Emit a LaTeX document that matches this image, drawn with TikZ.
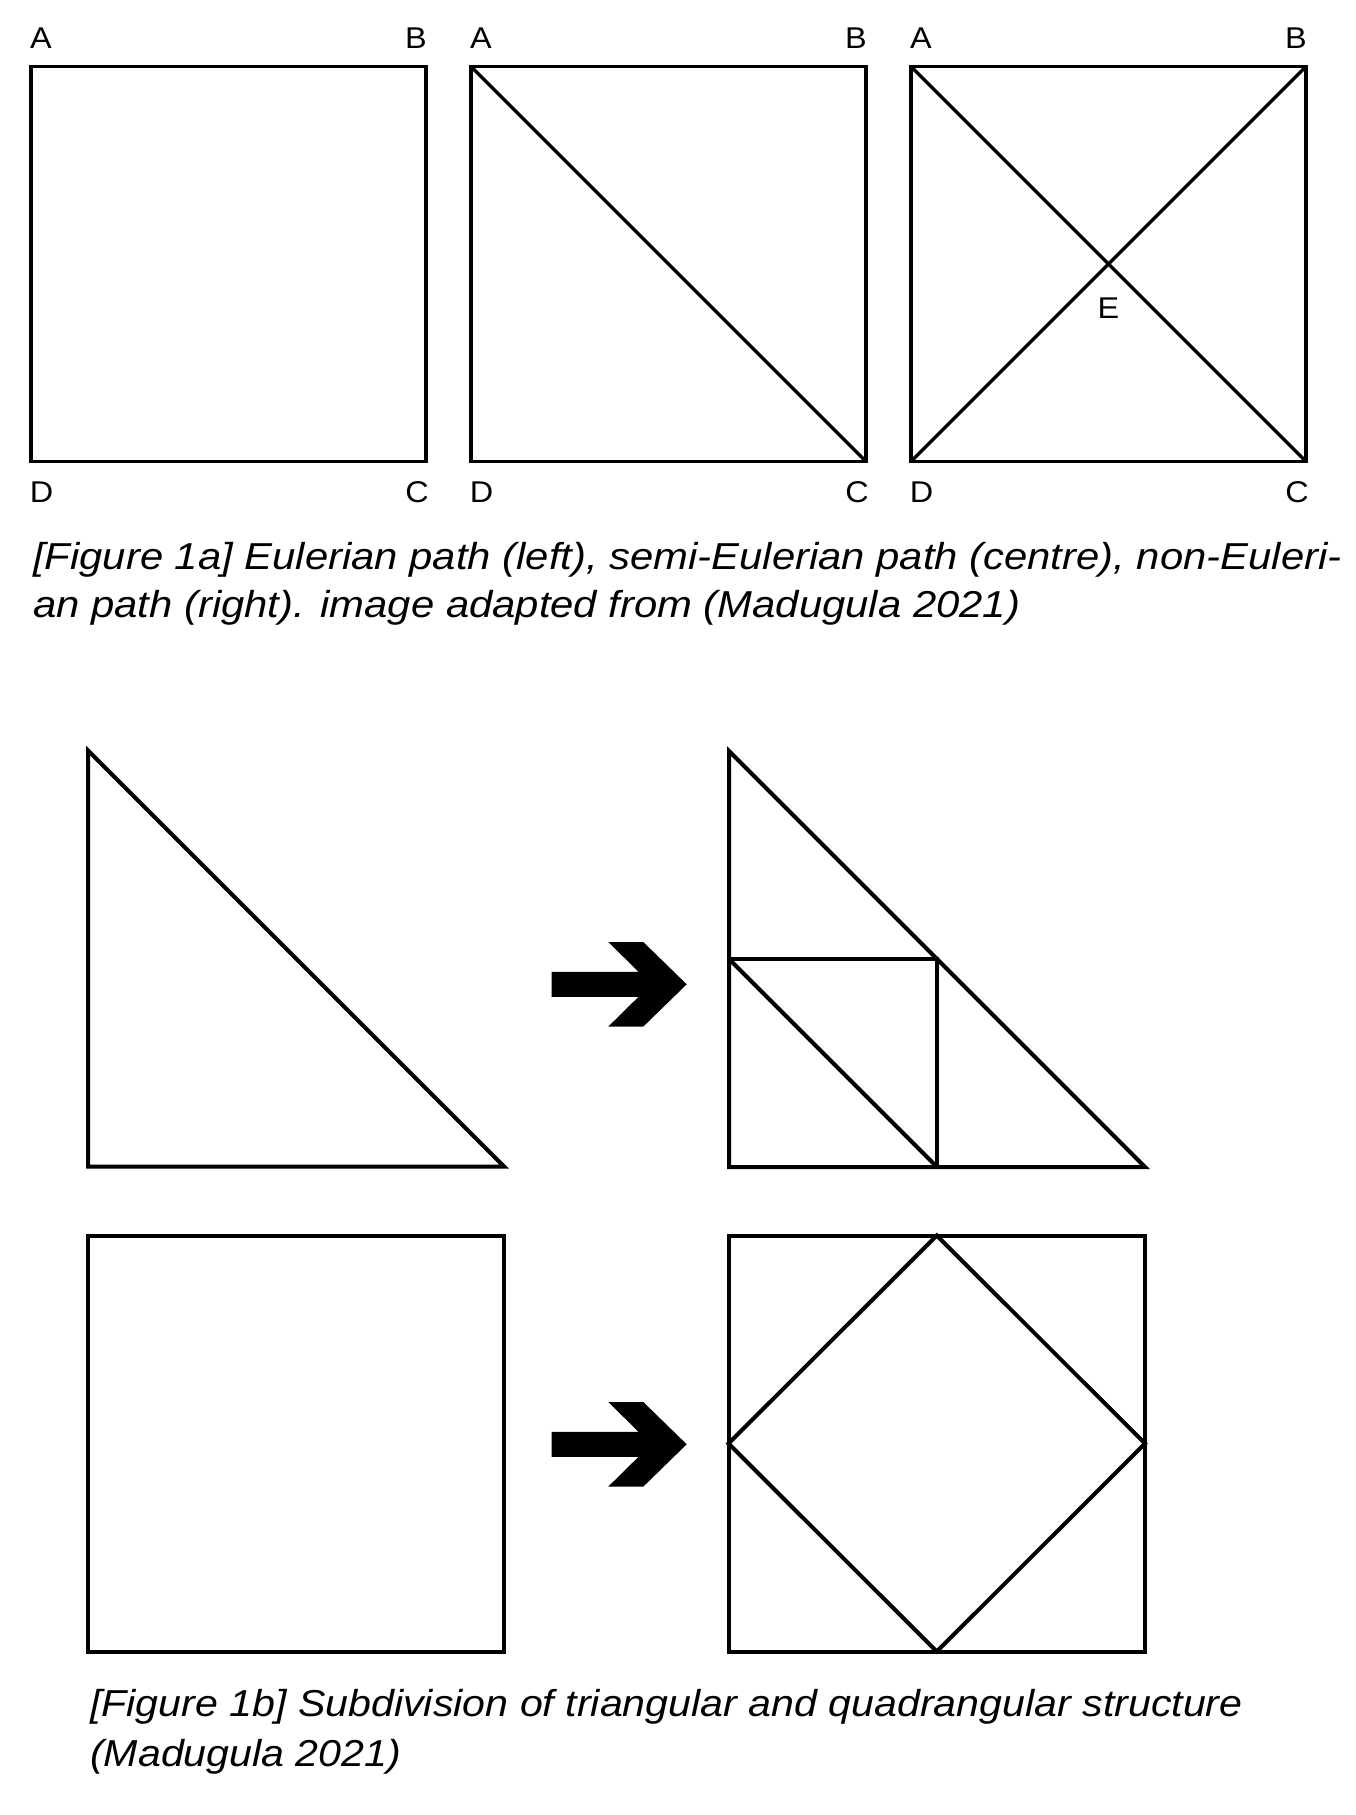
\documentclass[tikz,border=0pt]{standalone}
\usepackage{fontspec}
\usepackage{graphicx}
\setmainfont{Liberation Sans}
\newcommand{\wideA}[1]{\scalebox{1.115}[1]{#1}}
\newcommand{\wideB}[1]{\scalebox{1.097}[1]{#1}}
\newcommand{\wideL}[1]{\scalebox{1.08}[1]{#1}}
\begin{document}
\begin{tikzpicture}[x=1pt,y=-1pt,
  edge/.style={line width=3.4pt,line join=miter},
  edgeb/.style={line width=4pt,line join=miter},
  vlabel/.style={font=\fontsize{30}{34}\selectfont,inner sep=0pt,anchor=center},
  captext/.style={font=\fontsize{37.5}{42}\selectfont\itshape,inner sep=0pt,anchor=base west},
  bigarrow/.style={fill=black}]
\useasboundingbox[fill=white] (0,0) rectangle (1355,1815);

% ---------- Figure 1a ----------
\foreach \i/\x in {1/31,2/471,3/911}{
  \coordinate (A\i) at (\x,66.5);
  \coordinate (B\i) at (\x+395,66.5);
  \coordinate (C\i) at (\x+395,461.5);
  \coordinate (D\i) at (\x,461.5);
  \draw[edge] (A\i) -- (B\i) -- (C\i) -- (D\i) -- cycle;
  \node[vlabel] (lA\i) at (\x+10,38) {\wideL{A}};
  \node[vlabel] (lB\i) at (\x+385,38) {\wideL{B}};
  \node[vlabel] (lC\i) at (\x+386,492) {\wideL{C}};
  \node[vlabel] (lD\i) at (\x+10.5,492) {\wideL{D}};
}
\draw[edge] (A2) -- (C2);
\draw[edge] (A3) -- (C3);
\draw[edge] (B3) -- (D3);
\node[vlabel] (lE) at (1108.5,308) {\wideL{E}};

\node[captext] (cap1a1) at (33,569.5) {\wideA{[Figure 1a] Eulerian path (left), semi-Eulerian path (centre), non-Euleri-}};
\node[captext] (cap1a2) at (33,617) {\wideA{an path (right). image adapted from (Madugula 2021)}};

% ---------- Figure 1b ----------
% triangle (left)
\coordinate (t1a) at (88,750.5);
\coordinate (t1b) at (88,1166.5);
\coordinate (t1c) at (504,1166.5);
\draw[edgeb] (t1a) -- (t1b) -- (t1c) -- cycle;

% triangle subdivided (right)
\coordinate (t2a) at (729,751);
\coordinate (t2b) at (729,1167);
\coordinate (t2c) at (1145,1167);
\coordinate (t2ab) at (729,959);
\coordinate (t2ac) at (937,959);
\coordinate (t2bc) at (937,1167);
\draw[edgeb] (t2a) -- (t2b) -- (t2c) -- cycle;
\draw[edgeb] (t2ab) -- (t2ac) -- (t2bc);
\draw[edgeb] (t2ab) -- (t2bc);

% square (left)
\coordinate (s1a) at (88,1235.5);
\coordinate (s1b) at (504,1235.5);
\coordinate (s1c) at (504,1651.5);
\coordinate (s1d) at (88,1651.5);
\draw[edgeb] (s1a) -- (s1b) -- (s1c) -- (s1d) -- cycle;

% square subdivided (right)
\coordinate (s2a) at (728.5,1235.5);
\coordinate (s2b) at (1145,1235.5);
\coordinate (s2c) at (1145,1651.5);
\coordinate (s2d) at (728.5,1651.5);
\coordinate (s2n) at (936.75,1235.5);
\coordinate (s2e) at (1145,1443.5);
\coordinate (s2s) at (936.75,1651.5);
\coordinate (s2w) at (728.5,1443.5);
\draw[edgeb] (s2a) -- (s2b) -- (s2c) -- (s2d) -- cycle;
\draw[edgeb] (s2n) -- (s2e) -- (s2s) -- (s2w) -- cycle;

% block arrows
\foreach \cy in {984.3,1444.3}{
  \fill[bigarrow] (551.7,\cy-12.5) -- (638.5,\cy-12.5) -- (608.3,\cy-42.3) -- (643.3,\cy-42.3)
     -- (686.7,\cy) -- (643.3,\cy+42.3) -- (608.3,\cy+42.3) -- (638.5,\cy+12.5)
     -- (551.7,\cy+12.5) -- cycle;
}

\node[captext] (cap1b1) at (90,1716.5) {\wideB{[Figure 1b] Subdivision of triangular and quadrangular structure}};
\node[captext] (cap1b2) at (90,1766) {\wideB{(Madugula 2021)}};
\end{tikzpicture}
\end{document}
